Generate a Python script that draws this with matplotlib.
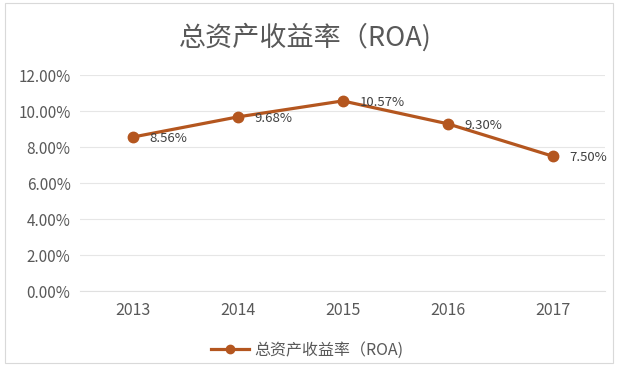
import matplotlib
matplotlib.use("Agg")
import matplotlib.pyplot as plt
from matplotlib.patches import Rectangle
from matplotlib.ticker import FuncFormatter

plt.rcParams['font.family'] = ['Noto Sans CJK SC', 'DejaVu Sans']

years = ['2013', '2014', '2015', '2016', '2017']
roa = [8.56, 9.68, 10.57, 9.30, 7.50]
series_name = '总资产收益率（ROA)'
title = '总资产收益率（ROA)'

line_color = '#B4561F'
text_grey = '#595959'

fig = plt.figure(figsize=(6.27, 3.76), dpi=100)
ax = fig.add_axes([0.128, 0.226, 0.837, 0.574])

# chart frame
fig.patches.append(Rectangle((0.008, 0.035), 0.97, 0.957, transform=fig.transFigure,
                             fill=False, edgecolor='#d9d9d9', linewidth=0.8))

x = list(range(len(years)))
ax.plot(x, roa, color=line_color, linewidth=2.3, marker='o', markersize=7.5,
        label=series_name, zorder=3)

for xi, v in zip(x, roa):
    ax.annotate(f'{v:.2f}%', (xi, v), xytext=(12, -1), textcoords='offset points',
                ha='left', va='center', fontsize=9.5, color='#404040')

ax.set_xlim(-0.5, len(years) - 0.5)
ax.set_ylim(0, 12)
ax.set_yticks([0, 2, 4, 6, 8, 10, 12])
ax.yaxis.set_major_formatter(FuncFormatter(lambda v, p: f'{v:.2f}%'))
ax.set_xticks(x)
ax.set_xticklabels(years)

ax.grid(axis='y', color='#e6e6e6', linewidth=0.8)
ax.set_axisbelow(True)
for s in ['top', 'right', 'left']:
    ax.spines[s].set_visible(False)
ax.spines['bottom'].set_color('#e0e0e0')
ax.tick_params(axis='y', length=0, labelsize=11, colors=text_grey, pad=7)
ax.tick_params(axis='x', length=0, labelsize=11.5, colors=text_grey, pad=8)

fig.text(0.487, 0.9, title, ha='center', va='center', fontsize=19.5, color=text_grey)

leg = fig.legend(loc='center', bbox_to_anchor=(0.49, 0.069), frameon=False,
                 fontsize=11.5, handlelength=2.4, handletextpad=0.3, markerscale=0.8,
                 labelcolor=text_grey)

fig.savefig('out.png', dpi=100)
